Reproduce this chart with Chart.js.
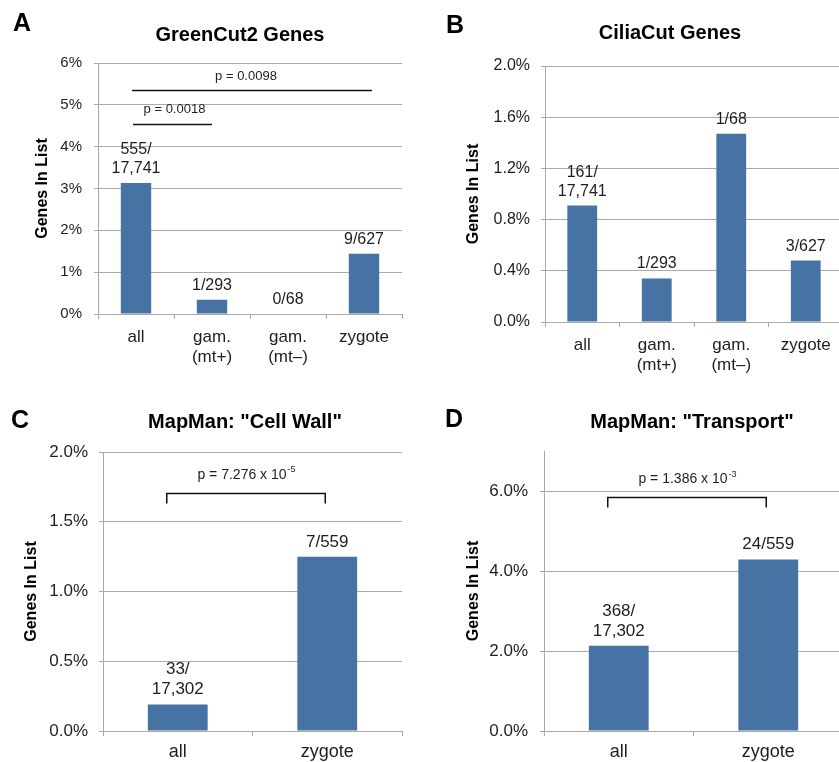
<!DOCTYPE html>
<html lang="en">
<head>
<meta charset="UTF-8">
<title>Gene list enrichment</title>
<script src="https://cdn.jsdelivr.net/npm/chart.js"></script>
<style>
    html, body { margin: 0; padding: 0; background: #fff; overflow: hidden; }
    #wrap { position: relative; width: 839px; height: 762px; overflow: hidden; }
    canvas { position: absolute; }
</style>
</head>
<body>
<div id="wrap">
    <canvas id="panelA" width="420" height="380" style="left:0;top:0"></canvas>
    <canvas id="panelB" width="430" height="380" style="left:420px;top:0"></canvas>
    <canvas id="panelC" width="420" height="372" style="left:0;top:390px"></canvas>
    <canvas id="panelD" width="430" height="372" style="left:420px;top:390px"></canvas>
</div>

<script>
    // data (percent of genes in list)
    const gameteCats = ['all', ['gam.', '(mt+)'], ['gam.', '(mt–)'], 'zygote'];
    const greenCutPct = [3.13, 0.34, 0, 1.44];
    const greenCutLabels = [['555/', '17,741'], ['1/293'], ['0/68'], ['9/627']];
    const ciliaCutPct = [0.91, 0.34, 1.47, 0.48];
    const ciliaCutLabels = [['161/', '17,741'], ['1/293'], ['1/68'], ['3/627']];

    const zygoteCats = ['all', 'zygote'];
    const cellWallPct = [0.19, 1.25];
    const cellWallLabels = [['33/', '17,302'], ['7/559']];
    const transportPct = [2.13, 4.29];
    const transportLabels = [['368/', '17,302'], ['24/559']];

    const FONT = '"Liberation Sans", Arial, sans-serif';
    const BAR = '#4672a4';
    const GRID = '#a9a9a9';
    const INK = '#1e1e1e';

    Chart.defaults.font.family = FONT;

    // titles, panel letters, value labels and p-value lines
    const annotate = {
        id: 'annotate',
        afterDatasetsDraw(chart, args, opts) {
            const ctx = chart.ctx;
            const meta = chart.getDatasetMeta(0);
            const xs = chart.scales.x, ys = chart.scales.y;
            ctx.save();
            ctx.fillStyle = INK;
            ctx.textAlign = 'center';
            ctx.textBaseline = 'alphabetic';
            ctx.font = opts.labelSize + 'px ' + FONT;
            opts.labels.forEach((lines, i) => {
                const bar = meta.data[i];
                let by = bar.y - 10;
                for (let k = lines.length - 1; k >= 0; k--) {
                    ctx.fillText(lines[k], bar.x, by);
                    by -= opts.lineHeight;
                }
            });

            opts.pvals.forEach(p => {
                const x0 = xs.getPixelForValue(p.from) + p.dx0;
                const x1 = xs.getPixelForValue(p.to) + p.dx1;
                const ly = Math.round(ys.getPixelForValue(p.lineAt)) + 0.5;
                ctx.strokeStyle = '#111';
                ctx.lineWidth = 1.5;
                ctx.beginPath();
                if (p.bracket) {
                    ctx.moveTo(x0, ly + 10); ctx.lineTo(x0, ly);
                    ctx.lineTo(x1, ly); ctx.lineTo(x1, ly + 10);
                } else {
                    ctx.moveTo(x0, ly); ctx.lineTo(x1, ly);
                }
                ctx.stroke();

                const ty = ys.getPixelForValue(p.textAt);
                const cx = (x0 + x1) / 2 + (p.textDx || 0);
                ctx.font = opts.pSize + 'px ' + FONT;
                const w1 = ctx.measureText(p.text).width;
                let w2 = 0;
                if (p.sup) {
                    ctx.font = Math.round(opts.pSize * 0.65) + 'px ' + FONT;
                    w2 = ctx.measureText(p.sup).width;
                }
                const sx = cx - (w1 + w2) / 2;
                ctx.textAlign = 'left';
                ctx.font = opts.pSize + 'px ' + FONT;
                ctx.fillText(p.text, sx, ty);
                if (p.sup) {
                    ctx.font = Math.round(opts.pSize * 0.65) + 'px ' + FONT;
                    ctx.fillText(p.sup, sx + w1 + 1, ty - opts.pSize * 0.45);
                }
                ctx.textAlign = 'center';
            });
            ctx.restore();
        },
        afterDraw(chart, args, opts) {
            const ctx = chart.ctx;
            ctx.save();
            ctx.fillStyle = '#000';
            ctx.textAlign = 'center';
            ctx.textBaseline = 'middle';
            ctx.font = 'bold 20px ' + FONT;
            ctx.fillText(opts.title, opts.titleX, opts.titleY);
            ctx.font = 'bold 25px ' + FONT;
            ctx.fillText(opts.letter, opts.letterX, opts.letterY);
            ctx.restore();
        }
    };

    function makePanel(id, o) {
        return new Chart(document.getElementById(id), {
            type: 'bar',
            data: {
                labels: o.cats,
                datasets: [{
                    data: o.values,
                    backgroundColor: BAR,
                    barPercentage: 0.4,
                    categoryPercentage: 1
                }]
            },
            options: {
                responsive: false,
                animation: false,
                layout: { padding: { top: o.top, right: o.right, left: 0, bottom: 0 } },
                plugins: {
                    legend: { display: false },
                    tooltip: { enabled: false },
                    annotate: {
                        labels: o.labels, labelSize: o.labelSize, lineHeight: o.lineHeight,
                        pvals: o.pvals, pSize: o.pSize,
                        title: o.title, titleX: o.titleX, titleY: o.titleY,
                        letter: o.letter, letterX: o.letterX, letterY: o.letterY
                    }
                },
                scales: {
                    x: {
                        grid: { drawOnChartArea: false, offset: true, tickLength: 5, color: GRID },
                        border: { color: GRID },
                        ticks: { color: INK, font: { size: o.xSize }, padding: o.xPad, maxRotation: 0, autoSkip: false },
                        afterFit: s => { s.height = o.xHeight; }
                    },
                    y: {
                        min: 0,
                        max: o.max,
                        ticks: {
                            stepSize: o.step,
                            color: INK,
                            font: { size: o.ySize },
                            padding: o.yPad,
                            callback: v => v.toFixed(o.dec) + '%'
                        },
                        grid: { color: GRID, tickLength: 4 },
                        border: { color: GRID },
                        title: {
                            display: true,
                            text: 'Genes In List',
                            color: '#000',
                            font: { size: 16, weight: 'bold' },
                            padding: { top: o.titlePad, bottom: 0 }
                        },
                        afterBuildTicks: s => { s.ticks = s.ticks.filter(t => t.value <= o.lastTick + 1e-9); },
                        afterFit: s => { s.width = o.yWidth; }
                    }
                }
            },
            plugins: [annotate]
        });
    }

    makePanel('panelA', {
        cats: gameteCats, values: greenCutPct, labels: greenCutLabels,
        top: 63, right: 18, yWidth: 98, xHeight: 66,
        max: 6, step: 1, lastTick: 6, dec: 0, ySize: 15, yPad: 12, titlePad: 33,
        xSize: 17, xPad: 8, labelSize: 16, lineHeight: 19, pSize: 13,
        pvals: [
            { from: 0, to: 3, lineAt: 5.36, textAt: 5.6, text: 'p = 0.0098', dx0: -4, dx1: 8, textDx: -6 },
            { from: 0, to: 1, lineAt: 4.55, textAt: 4.81, text: 'p = 0.0018', dx0: -3, dx1: 0, textDx: 2 }
        ],
        title: 'GreenCut2 Genes', titleX: 240, titleY: 35,
        letter: 'A', letterX: 22, letterY: 24
    });

    makePanel('panelB', {
        cats: gameteCats, values: ciliaCutPct, labels: ciliaCutLabels,
        top: 66, right: 7, yWidth: 125, xHeight: 58,
        max: 2, step: 0.4, lastTick: 2, dec: 1, ySize: 16, yPad: 11, titlePad: 44,
        xSize: 17, xPad: 8, labelSize: 16, lineHeight: 19, pSize: 13,
        pvals: [],
        title: 'CiliaCut Genes', titleX: 250, titleY: 33,
        letter: 'B', letterX: 35, letterY: 26
    });

    makePanel('panelC', {
        cats: zygoteCats, values: cellWallPct, labels: cellWallLabels,
        top: 62, right: 18, yWidth: 103, xHeight: 31,
        max: 2, step: 0.5, lastTick: 2, dec: 1, ySize: 17, yPad: 11, titlePad: 22,
        xSize: 18, xPad: 5, labelSize: 17, lineHeight: 20, pSize: 14,
        pvals: [
            { from: 0, to: 1, lineAt: 1.706, textAt: 1.81, text: 'p = 7.276 x 10', sup: '-5', bracket: true, dx0: -11, dx1: -2 }
        ],
        title: 'MapMan: "Cell Wall"', titleX: 245, titleY: 32,
        letter: 'C', letterX: 20, letterY: 31
    });

    makePanel('panelD', {
        cats: zygoteCats, values: transportPct, labels: transportLabels,
        top: 61, right: 7, yWidth: 124, xHeight: 31,
        max: 7, step: 2, lastTick: 6, dec: 1, ySize: 17, yPad: 12, titlePad: 44,
        xSize: 18, xPad: 5, labelSize: 17, lineHeight: 20, pSize: 14,
        pvals: [
            { from: 0, to: 1, lineAt: 5.85, textAt: 6.2, text: 'p = 1.386 x 10', sup: '-3', bracket: true, dx0: -11, dx1: -2 }
        ],
        title: 'MapMan: "Transport"', titleX: 272, titleY: 32,
        letter: 'D', letterX: 34, letterY: 30
    });
</script>
</body>
</html>
